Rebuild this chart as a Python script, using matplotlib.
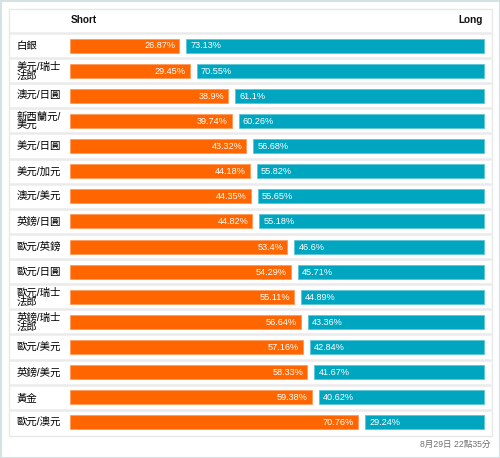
import matplotlib
matplotlib.use("Agg")
import matplotlib.pyplot as plt
from matplotlib.patches import Rectangle

categories = ["白銀", "美元/瑞士\n法郎", "澳元/日圓", "新西蘭元/\n美元", "美元/日圓", "美元/加元",
              "澳元/美元", "英鎊/日圓", "歐元/英鎊", "歐元/日圓", "歐元/瑞士\n法郎", "英鎊/瑞士\n法郎",
              "歐元/美元", "英鎊/美元", "黃金", "歐元/澳元"]
short_pct = [26.87, 29.45, 38.9, 39.74, 43.32, 44.18, 44.35, 44.82, 53.4, 54.29, 55.11, 56.64,
             57.16, 58.33, 59.38, 70.76]
long_pct = [73.13, 70.55, 61.1, 60.26, 56.68, 55.82, 55.65, 55.18, 46.6, 45.71, 44.89, 43.36,
            42.84, 41.67, 40.62, 29.24]
header_short = "Short"
header_long = "Long"
timestamp = "8月29日 22點35分"

ORANGE = "#ff6600"
TEAL = "#00a6bf"
FONT = ["Liberation Sans", "Noto Sans CJK TC", "DejaVu Sans"]
plt.rcParams["font.family"] = FONT

fig = plt.figure(figsize=(5.0, 4.58), dpi=100)
fig.patch.set_facecolor("white")
ax = fig.add_axes([0, 0, 1, 1])
ax.set_xlim(0, 500)
ax.set_ylim(458, 0)
ax.axis("off")

# outer border and card
ax.add_patch(Rectangle((0.5, 0.5), 499, 457, fill=False, edgecolor="#d5e2e4", lw=1.5))
ax.add_patch(Rectangle((8.5, 8.5), 483, 427, fill=False, edgecolor="#e8e8e8", lw=1))

x0 = 70
total = 414
gap = 7
scale = (total - gap) / 100.0
row_h = 25.13
y_first = 45.5
ys = [y_first + i * row_h for i in range(len(categories))]

# row separators
for i in range(len(categories)):
    yl = ys[i] - row_h / 2
    ax.plot([9, 491], [yl, yl], color="#ebebeb", lw=1.8, solid_capstyle="butt")

ax.text(x0 + 1, 20, header_short, fontsize=7.2, fontweight="bold", va="center", ha="left", color="#111111")
ax.text(483, 20, header_long, fontsize=7.2, fontweight="bold", va="center", ha="right", color="#111111")

sw = [s * scale for s in short_pct]
lw_ = [l * scale for l in long_pct]
lefts_long = [x0 + w + gap for w in sw]
ax.barh(ys, sw, left=x0, height=14, color=ORANGE, edgecolor="#ff9a5c", lw=0.6)
ax.barh(ys, lw_, left=lefts_long, height=14, color=TEAL, edgecolor="#5cc6d6", lw=0.6)

for y, cat, s, l, w, ll in zip(ys, categories, short_pct, long_pct, sw, lefts_long):
    ax.text(17, y + 0.5, cat, fontsize=7.5, fontweight="medium", va="center", ha="left",
            color="#000000", linespacing=0.82)
    ax.text(x0 + w - 4, y + 0.5, f"{s:g}%", fontsize=6.6, va="center", ha="right", color="white")
    ax.text(ll + 4, y + 0.5, f"{l:g}%", fontsize=6.6, va="center", ha="left", color="white")

ax.text(491, 444, timestamp, fontsize=6.2, va="center", ha="right", color="#707070")

fig.savefig("out.png", dpi=100, facecolor="white")
